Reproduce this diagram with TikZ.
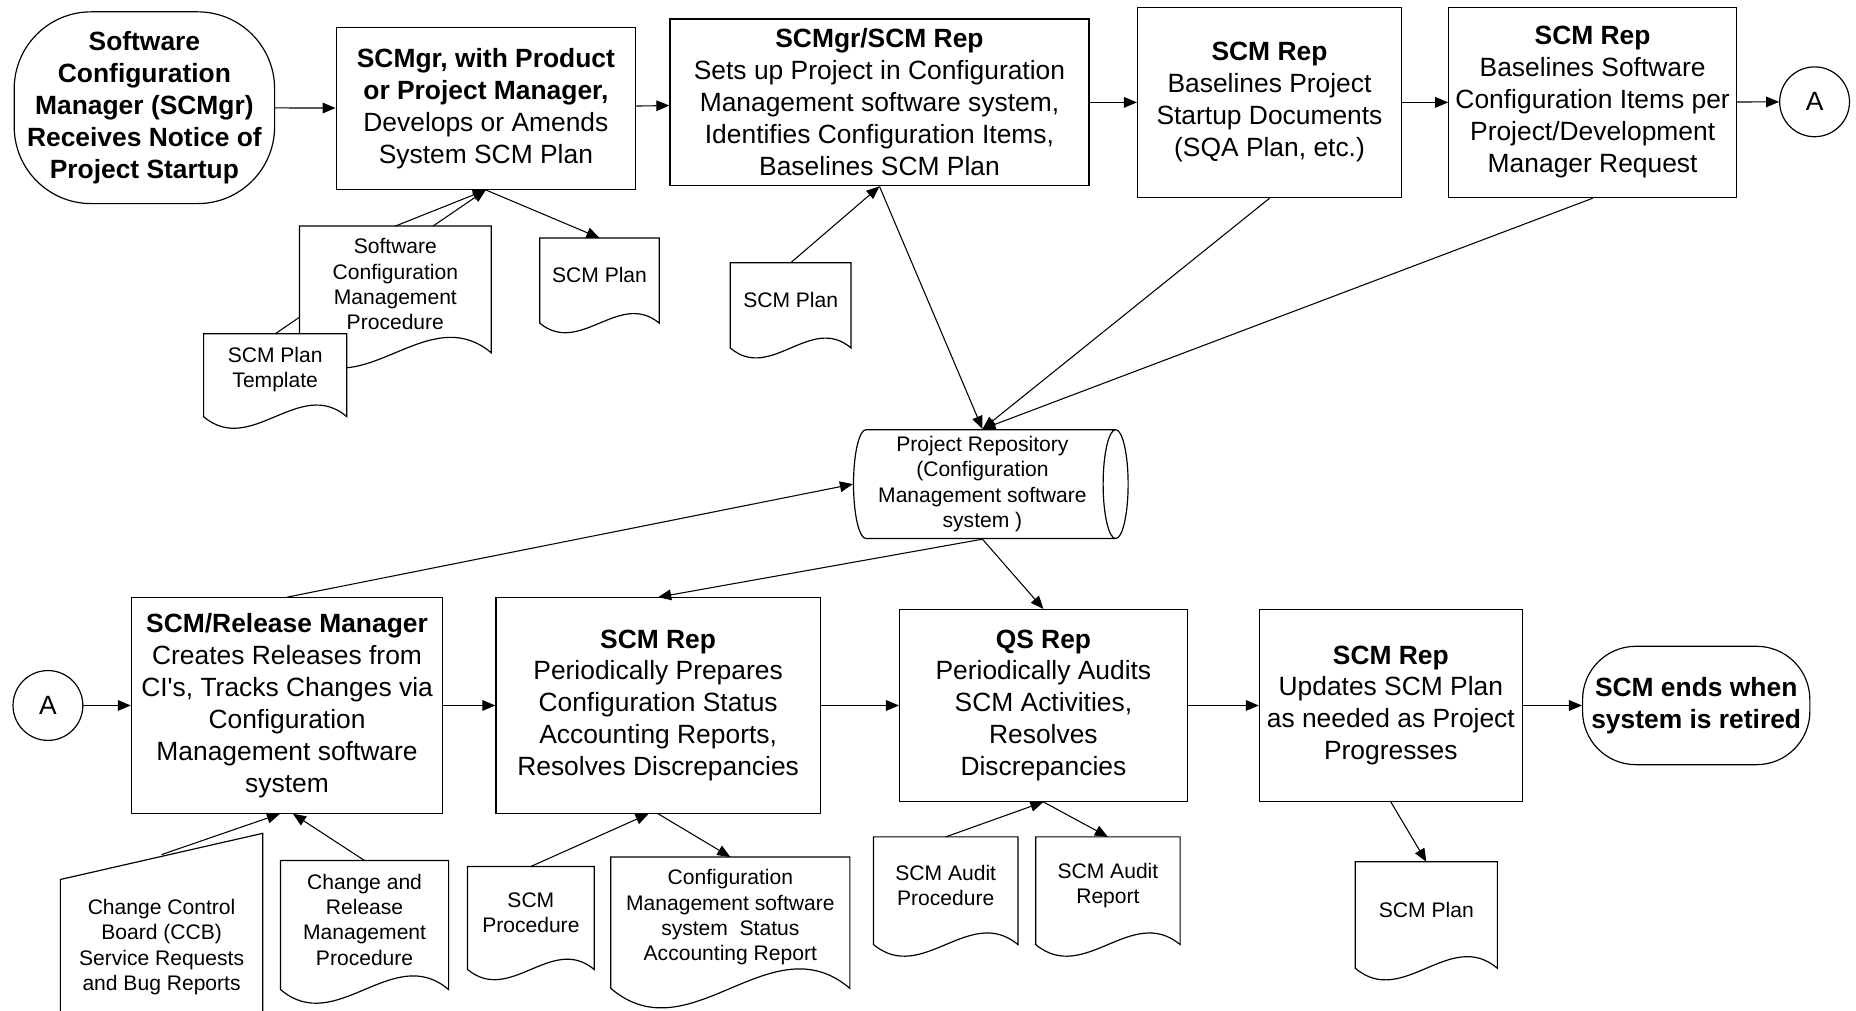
\documentclass[tikz,border=0pt]{standalone}
\usepackage{fontspec}
\setmainfont{Liberation Sans}
\usetikzlibrary{arrows.meta,shapes.geometric}

\begin{document}
\begin{tikzpicture}[x=1pt,y=-1pt,
  box/.style={draw,line width=1pt,inner sep=2pt,align=center,font=\fontsize{22.3}{27}\selectfont},
  term/.style={box,rounded corners=#1,font=\fontsize{22.3}{27}\selectfont\bfseries},
  onpage/.style={circle,draw,line width=1pt,minimum size=59pt,inner sep=0pt,font=\fontsize{22.3}{27}\selectfont},
  repo/.style={cylinder,draw,line width=1pt,aspect=0.25,inner sep=2pt,align=center,font=\fontsize{17.8}{21.3}\selectfont},
  doc/.style={draw,fill=white,line width=1pt},
  doctext/.style={anchor=north,inner sep=2pt,align=center,font=\fontsize{17.8}{21.3}\selectfont},
  flow/.style={line width=0.9pt,-{Triangle[length=11pt,width=9pt]}}]
  \fill[white] (0,0) rectangle (1568,854);
  \useasboundingbox (0,0) rectangle (1568,854);

  % top row
  \node[term=65pt,minimum width=220pt,minimum height=162pt] (start) at (122,91) {Software\\Configuration\\Manager (SCMgr)\\Receives Notice of\\Project Startup};
  \node[box,minimum width=253pt,minimum height=137pt] (box1) at (410.5,91.5) {\textbf{SCMgr, with Product}\\\textbf{or Project Manager,}\\Develops or Amends\\System SCM Plan};
  \node[box,minimum width=354pt,minimum height=141pt] (box2) at (743,86.5) {\textbf{SCMgr/SCM Rep}\\Sets up Project in Configuration\\Management software system,\\Identifies Configuration Items,\\Baselines SCM Plan};
  \node[box,minimum width=223pt,minimum height=161pt] (box3) at (1072.5,86.5) {\textbf{SCM Rep}\\Baselines Project\\Startup Documents\\(SQA Plan, etc.)};
  \node[box,minimum width=243pt,minimum height=161pt] (box4) at (1345.5,86.5) {\textbf{SCM Rep}\\Baselines Software\\Configuration Items per\\Project/Development\\Manager Request};
  \node[onpage] (a1) at (1533,86) {A};

  % repository (a cylinder on its side: its width is the vertical size)
  \node[repo,minimum width=92pt,minimum height=232pt] (repo) at (830,409) {Project Repository\\(Configuration\\Management software\\system )};

  % bottom row
  \node[onpage] (a2) at (40.5,596) {A};
  \node[box,minimum width=263pt,minimum height=182pt] (box5) at (242.5,596) {\textbf{SCM/Release Manager}\\Creates Releases from\\CI\textquotesingle s, Tracks Changes via\\Configuration\\Management software\\system};
  \node[box,minimum width=274pt,minimum height=182pt] (box6) at (556,596) {\textbf{SCM Rep}\\Periodically Prepares\\Configuration Status\\Accounting Reports,\\Resolves Discrepancies};
  \node[box,minimum width=243pt,minimum height=162pt] (box7) at (881.5,596) {\textbf{QS Rep}\\Periodically Audits\\SCM Activities,\\Resolves\\Discrepancies};
  \node[box,minimum width=222pt,minimum height=162pt] (box8) at (1175,596) {\textbf{SCM Rep}\\Updates SCM Plan\\as needed as Project\\Progresses};
  \node[term=45pt,minimum width=192pt,minimum height=100pt] (stop) at (1433,596) {SCM ends when\\system is retired};

  % documents of the first box
  \coordinate (tmpltop) at (232.5,282);
  \draw[flow] (tmpltop) -- (box1.south);
  \draw[doc] (253,191) -- (415,191) -- (415,298) .. controls +(-54,-45) and +(54,45) .. (253,298) -- cycle
    (334,191) node[doctext,minimum width=162pt,minimum height=97pt] (proc1) {Software\\Configuration\\Management\\Procedure};
  \draw[doc] (172,282) -- (293,282) -- (293,352) .. controls +(-40,-34) and +(40,34) .. (172,352) -- cycle
    (tmpltop) node[doctext,minimum width=121pt,minimum height=60pt] (tmpl) {SCM Plan\\Template};
  \draw[doc] (456,201) -- (557,201) -- (557,273) .. controls +(-34,-28) and +(34,28) .. (456,273) -- cycle
    (506.5,201) node[doctext,minimum width=101pt,minimum height=62pt] (plan1) {SCM Plan};

  % document of the second box
  \draw[doc] (617,222) -- (719,222) -- (719,294) .. controls +(-34,-29) and +(34,29) .. (617,294) -- cycle
    (668,222) node[doctext,minimum width=102pt,minimum height=62pt] (plan2) {SCM Plan};

  % documents of the bottom row
  \draw[doc] (51,860) -- (51,743) -- (222,704) -- (222,860)
    (136.5,722) node[doctext,minimum width=171pt,minimum height=155pt] (ccb) {Change Control\\Board (CCB)\\Service Requests\\and Bug Reports};
  \draw[doc] (237,727) -- (379,727) -- (379,836) .. controls +(-47,-40) and +(47,40) .. (237,836) -- cycle
    (308,727) node[doctext,minimum width=142pt,minimum height=99pt] (crproc) {Change and\\Release\\Management\\Procedure};
  \draw[doc] (395,732) -- (502,732) -- (502,819) .. controls +(-36,-30) and +(36,30) .. (395,819) -- cycle
    (448.5,732) node[doctext,minimum width=107pt,minimum height=77pt] (scmproc) {SCM\\Procedure};
  \draw[doc] (516,724) -- (718,724) -- (718,835) .. controls +(-67,-57) and +(67,57) .. (516,835) -- cycle
    (617,724) node[doctext,minimum width=202pt,minimum height=101pt] (csar) {Configuration\\Management software\\system~ Status\\Accounting Report};
  \draw[doc] (738,707) -- (860,707) -- (860,798) .. controls +(-41,-34) and +(41,34) .. (738,798) -- cycle
    (799,707) node[doctext,minimum width=122pt,minimum height=81pt] (audproc) {SCM Audit\\Procedure};
  \draw[doc] (875,707) -- (997,707) -- (997,798) .. controls +(-41,-34) and +(41,34) .. (875,798) -- cycle
    (936,707) node[doctext,minimum width=122pt,minimum height=81pt] (audrep) {SCM Audit\\Report};
  \draw[doc] (1145,728) -- (1265,728) -- (1265,818) .. controls +(-40,-34) and +(40,34) .. (1145,818) -- cycle
    (1205,728) node[doctext,minimum width=120pt,minimum height=80pt] (plan3) {SCM Plan};

  % flow along the rows
  \draw[flow] (start) -- (box1);
  \draw[flow] (box1) -- (box2);
  \draw[flow] (box2) -- (box3);
  \draw[flow] (box3) -- (box4);
  \draw[flow] (box4) -- (a1);
  \draw[flow] (a2) -- (box5);
  \draw[flow] (box5) -- (box6);
  \draw[flow] (box6) -- (box7);
  \draw[flow] (box7) -- (box8);
  \draw[flow] (box8) -- (stop);

  % inputs and outputs
  \draw[flow] (proc1.north) -- (box1.south);
  \draw[flow] (box1.south) -- (plan1.north);
  \draw[flow] (plan2.north) -- (box2.south);
  \draw[flow] (ccb.north) -- ([xshift=-6pt]box5.south);
  \draw[flow] (crproc.north) -- ([xshift=5pt]box5.south);
  \draw[flow] (scmproc.north) -- ([xshift=-8pt]box6.south);
  \draw[flow] (box6.south) -- (csar.north);
  \draw[flow] (audproc.north) -- (box7.south);
  \draw[flow] (box7.south) -- (audrep.north);
  \draw[flow] (box8.south) -- (plan3.north);

  % repository links
  \draw[flow] (box2.south) -- (repo.north);
  \draw[flow] (box3.south) -- (repo.north);
  \draw[flow] (box4.south) -- (repo.north);
  \draw[flow] (box5.north) -- (repo.west);
  \draw[flow] (repo.south) -- (box6.north);
  \draw[flow] (repo.south) -- (box7.north);
\end{tikzpicture}
\end{document}
